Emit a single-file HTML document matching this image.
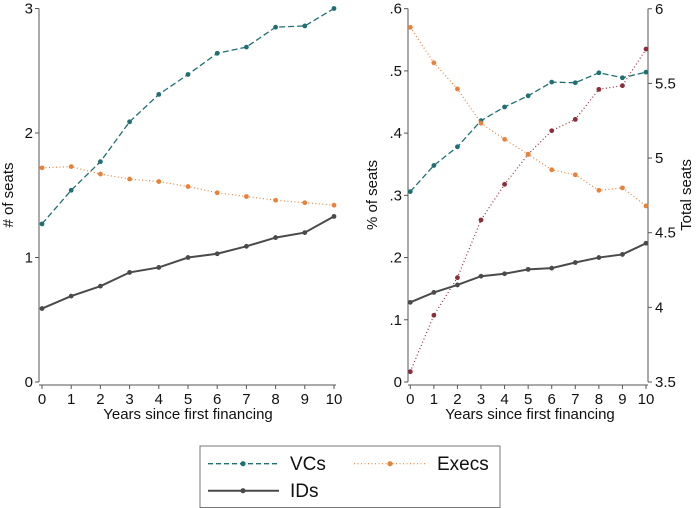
<!DOCTYPE html>
<html><head><meta charset="utf-8"><style>
body{margin:0;background:#fff;}
svg{display:block;font-family:"Liberation Sans",Arial,sans-serif;}
text{fill:#111;}
</style></head><body>
<svg id="c" width="699" height="508" viewBox="0 0 699 508">
<g id="left"></g>
<g id="right"></g>
<g>
<rect x="200" y="446" width="300" height="61.5" fill="#fff" stroke="#777" stroke-width="1"/>
<g>
<line x1="208" y1="463.7" x2="279" y2="463.7" stroke="#1f6f73" stroke-width="1.3" stroke-dasharray="5,3"/>
<circle cx="243" cy="463.7" r="2.6" fill="#1f6f73"/>
<text x="290" y="470" font-size="19">VCs</text></g>
<g>
<line x1="354" y1="463.7" x2="426" y2="463.7" stroke="#e8823a" stroke-width="1.2" stroke-dasharray="1,2.5"/>
<circle cx="390" cy="463.7" r="2.6" fill="#e8823a"/>
<text x="437" y="470" font-size="19">Execs</text></g>
<g>
<line x1="208" y1="490.7" x2="279" y2="490.7" stroke="#4a4a4a" stroke-width="2"/>
<circle cx="243" cy="490.7" r="2.6" fill="#4a4a4a"/>
<text x="290" y="497" font-size="19">IDs</text></g>
</g>
</svg>
<script>
const years=[0,1,2,3,4,5,6,7,8,9,10];
const vcsSeats=[1.27,1.54,1.77,2.09,2.31,2.47,2.64,2.69,2.85,2.86,3.0];
const execsSeats=[1.72,1.73,1.67,1.63,1.61,1.57,1.52,1.49,1.46,1.44,1.42];
const idsSeats=[0.59,0.69,0.77,0.88,0.92,1.0,1.03,1.09,1.16,1.20,1.33];
const vcsPct=[0.306,0.348,0.378,0.420,0.442,0.460,0.482,0.481,0.497,0.489,0.498];
const execsPct=[0.570,0.513,0.471,0.416,0.390,0.366,0.341,0.333,0.308,0.312,0.283];
const idsPct=[0.128,0.144,0.156,0.170,0.174,0.181,0.183,0.192,0.200,0.205,0.223];
const totalSeats=[3.569,3.947,4.199,4.585,4.824,5.025,5.183,5.259,5.460,5.485,5.730];
const leftTicks=[0,1,2,3];
const leftTickLabels=["0","1","2","3"];
const pctTicks=[0,0.1,0.2,0.3,0.4,0.5,0.6];
const pctTickLabels=["0",".1",".2",".3",".4",".5",".6"];
const totTicks=[3.5,4,4.5,5,5.5,6];
const totTickLabels=["3.5","4","4.5","5","5.5","6"];

const NS="http://www.w3.org/2000/svg";
function mk(parent,tag,attrs){const e=document.createElementNS(NS,tag);for(const k in attrs)e.setAttribute(k,attrs[k]);parent.appendChild(e);return e;}
const styles={
 vcs:{c:"#1f6f73",w:1.3,d:"6,3"},
 execs:{c:"#e8823a",w:1.2,d:"1,2.5"},
 ids:{c:"#4a4a4a",w:2,d:""},
 total:{c:"#8b2e3a",w:1.2,d:"1,2.5"}
};
function series(g,xs,ys,xf,yf,st,name){
  const sg=mk(g,"g",{});
  
  
  const pts=xs.map((x,i)=>xf(x)+","+yf(ys[i])).join(" ");
  const pl=mk(sg,"polyline",{points:pts,fill:"none",stroke:st.c,"stroke-width":st.w});
  if(st.d)pl.setAttribute("stroke-dasharray",st.d);
  xs.forEach((x,i)=>{
    const c=mk(sg,"circle",{cx:xf(x),cy:yf(ys[i]),r:2.4,fill:st.c});
    
    
  });
}
function xAxis(g,x0,x1,xf,yb,cx){
  mk(g,"line",{x1:x0,y1:yb,x2:x1,y2:yb,stroke:"#555","stroke-width":1});
  years.forEach(v=>{
    mk(g,"line",{x1:xf(v),y1:yb,x2:xf(v),y2:yb+4,stroke:"#555"});
    const t=mk(g,"text",{x:xf(v),y:yb+19,"font-size":15,"text-anchor":"middle"});t.textContent=v;
    
    
  });
  const tt=mk(g,"text",{x:cx,y:yb+34,"font-size":15,"text-anchor":"middle"});
  tt.textContent="Years since first financing";
  
  
}
function yAxis(g,xa,ticks,labels,yf,side,yt,ty,title,tname){
  const top=yf(ticks[ticks.length-1]),bot=yf(ticks[0]);
  mk(g,"line",{x1:xa,y1:top,x2:xa,y2:bot,stroke:"#555"});
  ticks.forEach((v,i)=>{
    const d=side<0?-4:4;
    mk(g,"line",{x1:xa,y1:yf(v),x2:xa+d,y2:yf(v),stroke:"#555"});
    const t=mk(g,"text",{x:side<0?xa-6:xa+7,y:yf(v)+5,"font-size":15,"text-anchor":side<0?"end":"start"});
    t.textContent=labels[i];
    
    
  });
  const tt=mk(g,"text",{x:yt,y:ty,"font-size":15,"text-anchor":"middle",transform:"rotate(-90 "+yt+" "+ty+")"});
  tt.textContent=title;
  
  
}
const L=document.getElementById("left");
const lx=v=>42+v*29.2, ly=v=>382-v*124.5;
xAxis(L,39,336,lx,385,188);
yAxis(L,39,leftTicks,leftTickLabels,ly,-1,13,195,"# of seats","y-tick-label");
series(L,years,vcsSeats,lx,ly,styles.vcs,"line-vcs");
series(L,years,execsSeats,lx,ly,styles.execs,"line-execs");
series(L,years,idsSeats,lx,ly,styles.ids,"line-ids");
const R=document.getElementById("right");
const rx=v=>410.3+v*23.57, ry=v=>382-v*622.2, rt=v=>382-(v-3.5)*149.3;
xAxis(R,408,648,rx,385,530);
yAxis(R,408,pctTicks,pctTickLabels,ry,-1,377,195,"% of seats","y-left-tick-label");
yAxis(R,648,totTicks,totTickLabels,rt,1,691,195,"Total seats","y-right-tick-label");
series(R,years,totalSeats,rx,rt,styles.total,"line-total-seats");
series(R,years,vcsPct,rx,ry,styles.vcs,"line-vcs-pct");
series(R,years,execsPct,rx,ry,styles.execs,"line-execs-pct");
series(R,years,idsPct,rx,ry,styles.ids,"line-ids-pct");
</script>
</body></html>
